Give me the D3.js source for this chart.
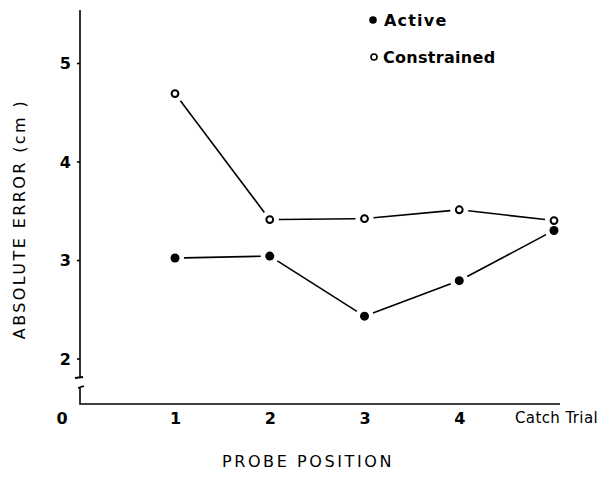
<!DOCTYPE html>
<html><head><meta charset="utf-8">
<script src="https://cdn.jsdelivr.net/npm/d3@7/dist/d3.min.js"></script>
<style>body{margin:0;background:#fff}svg{display:block}text{font-family:"DejaVu Sans",sans-serif;fill:#000}</style>
</head><body>
<script>
const positions = [1, 2, 3, 4, 5];
const xTickLabels = ["1", "2", "3", "4", "Catch Trial"];
const yTicks = [2, 3, 4, 5];
const active = [3.02, 3.04, 2.43, 2.79, 3.30];
const constrained = [4.69, 3.41, 3.42, 3.51, 3.40];
const seriesNames = ["Active", "Constrained"];

const W = 604, H = 478;
const svg = d3.select("body").append("svg").attr("width", W).attr("height", H);
const x = d3.scaleLinear().domain([1, 5]).range([175, 554]);
const y = d3.scaleLinear().domain([2, 5]).range([358.5, 63]);
const axX = 80;

// y axis (broken)
const ya = svg.append("g").attr("transform", `translate(${axX},0)`)
  .call(d3.axisLeft(y).tickValues(yTicks).tickSize(3).tickPadding(6).tickFormat(d3.format("d")));
ya.select(".domain").remove();
ya.selectAll("line").attr("stroke", "#000").attr("stroke-width", 1.6);
ya.selectAll("text").style("font-size", "16px").style("font-weight", "bold").attr("dy", "0.35em");
svg.append("line").attr("x1", axX).attr("x2", axX).attr("y1", 10).attr("y2", 378).attr("stroke", "#000").attr("stroke-width", 1.6);
svg.append("line").attr("x1", axX - 5).attr("x2", axX + 3).attr("y1", 378).attr("y2", 377).attr("stroke", "#000").attr("stroke-width", 2);
svg.append("path").attr("d", `M${axX-2},388 L${axX+4},386 M${axX},387 L${axX},404 L560,404`).attr("fill", "none").attr("stroke", "#000").attr("stroke-width", 1.6);

// x axis labels
const xa = svg.append("g").attr("transform", `translate(0,404)`)
  .call(d3.axisBottom(x).tickValues(positions).tickSize(0).tickPadding(8).tickFormat((d, i) => xTickLabels[i]));
xa.select(".domain").remove();
xa.selectAll("text").style("font-size", "16px").style("font-weight", "bold").attr("dy", "0.72em");
xa.selectAll("text").filter((d, i) => i === 4).attr("dx", "2px").style("font-size", "15px").style("font-weight", "normal").style("letter-spacing", "0.4px");
svg.append("text").attr("x", 62).attr("y", 424).attr("text-anchor", "middle").style("font-size", "16px").style("font-weight", "bold").text("0");

// axis titles
svg.append("text").attr("x", 308).attr("y", 467).attr("text-anchor", "middle")
  .style("font-size", "16px").style("letter-spacing", "2.6px").text("PROBE  POSITION");
svg.append("text").attr("transform", "translate(25,219) rotate(-90)").attr("text-anchor", "middle")
  .style("font-size", "16px").style("letter-spacing", "2.4px").text("ABSOLUTE  ERROR (cm )");

// lines with gaps near markers
function drawSeries(vals, filled) {
  const pts = vals.map((v, i) => [x(positions[i]), y(v)]);
  const gap = 9;
  for (let i = 0; i < pts.length - 1; i++) {
    const [x1, y1] = pts[i], [x2, y2] = pts[i + 1];
    const L = Math.hypot(x2 - x1, y2 - y1);
    if (L < 2 * gap) continue;
    const ux = (x2 - x1) / L, uy = (y2 - y1) / L;
    svg.append("line").attr("x1", x1 + ux * gap).attr("y1", y1 + uy * gap)
      .attr("x2", x2 - ux * gap).attr("y2", y2 - uy * gap)
      .attr("stroke", "#000").attr("stroke-width", 1.6);
  }
  svg.selectAll(null).data(pts).enter().append("circle")
    .attr("cx", d => d[0]).attr("cy", d => d[1])
    .attr("r", filled ? 4.5 : 3.4)
    .attr("fill", filled ? "#000" : "#fff").attr("stroke", "#000").attr("stroke-width", filled ? 0 : 2);
}
drawSeries(constrained, false);
drawSeries(active, true);

// legend
svg.append("circle").attr("cx", 373).attr("cy", 20).attr("r", 3.8).attr("fill", "#000");
svg.append("text").attr("x", 384).attr("y", 26).style("font-size", "16px").style("font-weight", "bold").style("letter-spacing", "1.2px").text(seriesNames[0]);
svg.append("circle").attr("cx", 374).attr("cy", 57).attr("r", 3).attr("fill", "#fff").attr("stroke", "#000").attr("stroke-width", 1.6);
svg.append("text").attr("x", 383).attr("y", 63).style("font-size", "16px").style("font-weight", "bold").style("letter-spacing", "0.3px").text(seriesNames[1]);
</script>
</body></html>
